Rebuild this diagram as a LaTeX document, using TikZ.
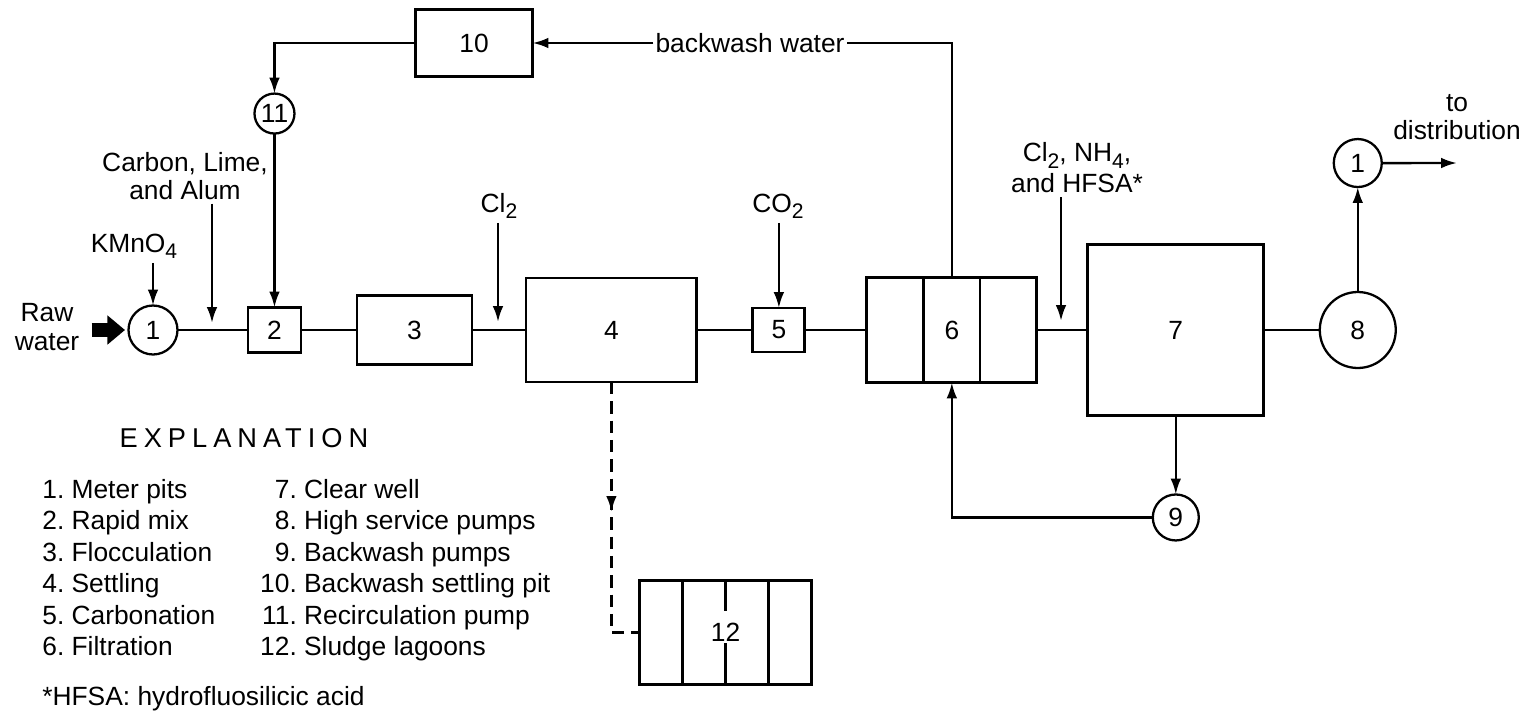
\documentclass[tikz,border=0pt]{standalone}
\usepackage{fontspec}
\setmainfont{Liberation Sans}
\usepackage{tikz}
\usetikzlibrary{arrows.meta,positioning,calc,decorations.markings}

\newcommand{\lowidx}[1]{\raisebox{-0.5ex}{\fontsize{12}{12}\selectfont #1}}

\begin{document}
\begin{tikzpicture}[
    x=0.02cm, y=-0.02cm,
    font=\fontsize{15}{18}\selectfont,
    unit/.style={rectangle, draw, line width=1.6pt, inner sep=0pt, outer sep=0pt, align=center},
    pump/.style={circle, draw, line width=1.3pt, inner sep=0pt, outer sep=0pt},
    lbl/.style={align=center, inner sep=2pt, font=\fontsize{15}{16}\selectfont},
    pipe/.style={line width=1.4pt},
    arrow/.style={-{Latex[length=9pt,width=6pt]}, line width=1.4pt},
    fatarrow/.style={-{Triangle[length=10pt,width=16pt]}, line width=7.5pt}
]
\useasboundingbox (0,0) rectangle (1533,717);

% Nodes
\node[pump, minimum size=0.98cm] (meter) at (153,330) {1};
\node[unit, minimum width=1.06cm, minimum height=0.9cm, right=1.41cm of meter] (mix) {2};
\node[unit, minimum width=2.3cm, minimum height=1.38cm, right=1.12cm of mix] (floc) {3};
\node[unit, minimum width=3.42cm, minimum height=2.08cm, right=1.08cm of floc] (settle) {4};
\node[unit, minimum width=1.04cm, minimum height=0.88cm, right=1.12cm of settle] (carb) {5};
\node[unit, minimum width=3.4cm, minimum height=2.1cm, right=1.24cm of carb] (filt) {6};
\node[unit, minimum width=3.52cm, minimum height=3.42cm, right=1.02cm of filt] (well) {7};
\node[pump, minimum size=1.52cm, right=1.12cm of well] (hsp) {8};
\node[pump, minimum size=0.96cm, above=2.1cm of hsp] (meterout) {1};
\node[pump, minimum size=0.92cm, below=1.58cm of well] (bwpump) {9};
\node[pump, minimum size=0.8cm, above=3.48cm of mix] (recirc) {11};
\node[unit, minimum width=2.34cm, minimum height=1.34cm] (pit) at (474,43) {10};
\node[unit, minimum width=3.44cm, minimum height=2.08cm] (lagoon) at (725.5,632.5) {12};

\node[lbl] (raw) at (47,327) {Raw\\water};
\node[lbl, anchor=base] (kmno) at (134,252) {KMnO\lowidx{4}};
\node[lbl] (carbon) at (185,176) {Carbon, Lime,\\and Alum};
\node[lbl, anchor=base] (chlor) at (499,212) {Cl\lowidx{2}};
\node[lbl, anchor=base] (cotwo) at (778,212) {CO\lowidx{2}};
\node[lbl, font=\fontsize{15}{17.6}\selectfont] (post) at (1077,168) {Cl\lowidx{2}, NH\lowidx{4},\\and HFSA*};
\node[lbl] (distr) at (1457,117) {to\\distribution};
\node[inner sep=1pt] (bw) at (750,43) {backwash water};

\node[font=\fontsize{15.5}{18}\selectfont\addfontfeature{LetterSpace=22}] (expl) at (244,438) {EXPLANATION};
\node[anchor=north west, inner sep=0pt, font=\fontsize{15}{17.9}\selectfont] (legend) at (42,476) {%
\begin{tabular}{@{}r@{\ }l@{\hspace{0.9cm}}r@{\ }l@{}}
1. & Meter pits & 7. & Clear well\\
2. & Rapid mix & 8. & High service pumps\\
3. & Flocculation & 9. & Backwash pumps\\
4. & Settling & 10. & Backwash settling pit\\
5. & Carbonation & 11. & Recirculation pump\\
6. & Filtration & 12. & Sludge lagoons
\end{tabular}};
\node[anchor=base west, inner sep=0pt] (note) at (42,705) {*HFSA: hydrofluosilicic acid};

\coordinate (dose1) at (212,330);
\coordinate (dose2) at (498,330);
\coordinate (dose3) at (1061,330);
\coordinate (out) at (1457,163);

% Cell walls
\foreach \f in {1,2}
    \draw[pipe] ($(filt.north west)!\f/3!(filt.north east)$) -- ($(filt.south west)!\f/3!(filt.south east)$);
\foreach \f in {1,3}
    \draw[pipe] ($(lagoon.north west)!\f/4!(lagoon.north east)$) -- ($(lagoon.south west)!\f/4!(lagoon.south east)$);
\draw[pipe] (lagoon.north) -- ++(0,30);
\draw[pipe] (lagoon.south) -- ++(0,-42);

% Edges
\draw[fatarrow, shorten <=0.17cm, shorten >=0.07cm] (raw.east |- meter.west) -- (meter.west);
\draw[pipe] (meter) -- (mix);
\draw[pipe] (mix) -- (floc);
\draw[pipe] (floc) -- (settle);
\draw[pipe] (settle) -- (carb);
\draw[pipe] (carb) -- (filt);
\draw[pipe] (filt) -- (well);
\draw[pipe] (well) -- (hsp);

\draw[arrow] (kmno.south -| meter.north) -- (meter.north);
\draw[arrow, shorten >=0.14cm] (carbon.south -| dose1) -- (dose1);
\draw[arrow, shorten >=0.16cm] (chlor.south -| dose2) -- (dose2);
\draw[arrow] (cotwo.south -| carb.north) -- (carb.north);
\draw[arrow, shorten >=0.18cm] (post.south -| dose3) -- (dose3);

\draw[arrow] (hsp) -- (meterout);
\draw[arrow] (meterout) -- (out);
\draw[arrow] (well) -- (bwpump);
\draw[arrow] (bwpump.west) -| (filt.south);

\draw[pipe] (filt.north) |- (bw.east);
\draw[arrow] (bw.west) -- (pit.east);
\draw[arrow] (pit.west) -| (recirc.north);
\draw[arrow] (recirc.south) -- (recirc.south |- mix.north);

\draw[pipe, dash pattern=on 7pt off 4pt, postaction={decorate},
    decoration={markings, mark=at position 0.466 with {\arrow[solid]{Latex[length=9pt,width=6pt]}}}]
    (settle.south) |- (lagoon.west);

\end{tikzpicture}
\end{document}
